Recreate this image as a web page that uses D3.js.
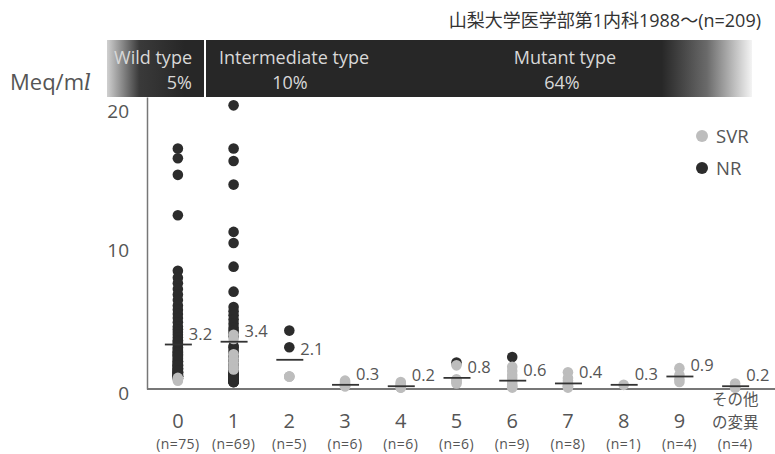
<!DOCTYPE html>
<html>
<head>
<meta charset="utf-8">
<script src="https://cdn.jsdelivr.net/npm/d3@7"></script>
<style>
  html, body { margin: 0; padding: 0; background: #fff; }
  svg { display: block; }
  text { font-family: "Open Sans", "Noto Sans", "Noto Sans CJK JP", sans-serif; }
</style>
</head>
<body>
<svg id="chart" width="775" height="454"></svg>
<script>
// Categories (number of substitutions) and group sizes
const categories = ["0", "1", "2", "3", "4", "5", "6", "7", "8", "9", "その他"];
const groupN = [75, 69, 5, 6, 6, 6, 9, 8, 1, 4, 4];

// Mean value label per group
const means = [3.2, 3.4, 2.1, 0.3, 0.2, 0.8, 0.6, 0.4, 0.3, 0.9, 0.2];

// Individual values, non-responders (NR)
const nrValues = [
  [17.3, 16.6, 15.4, 12.5,
   8.5, 8.0, 7.6, 7.2, 6.8, 6.4, 6.0, 5.7, 5.4, 5.1,
   4.8, 4.5, 4.3, 4.1, 3.9, 3.7, 3.5, 3.3, 3.2, 3.0,
   2.9, 2.8, 2.7, 2.6, 2.5, 2.4, 2.3, 2.2, 2.1, 2.0,
   2.0, 1.9, 1.8, 1.8, 1.7, 1.6, 1.6, 1.5, 1.5, 1.4,
   1.4, 1.3, 1.3, 1.2, 1.2, 1.2, 1.1, 1.1, 1.1, 1.0,
   1.0, 1.0, 1.0, 0.9, 0.9, 0.9, 0.9, 0.9, 0.8, 0.8,
   0.8, 0.8, 2.6, 3.4, 1.7, 2.4, 1.3],
  [20.4, 17.3, 16.4, 14.7, 11.3, 10.5, 8.8, 7.0,
   5.9, 5.6, 5.3, 5.0, 4.7, 4.4, 4.2, 4.0, 3.8, 3.1,
   3.0, 2.8, 2.6, 2.4, 2.2, 2.0, 1.8, 1.6, 1.4, 1.2,
   1.2, 1.1, 1.1, 1.0, 1.0, 1.0, 0.9, 0.9, 0.9, 0.8,
   0.8, 0.8, 0.8, 0.7, 0.7, 0.7, 0.7, 0.6, 0.6, 0.6,
   0.6, 0.5, 0.5, 0.5, 0.5, 1.3, 1.5, 0.9, 1.0, 1.1,
   0.8, 0.7, 1.2, 0.9],
  [4.2, 3.0],
  [],
  [],
  [1.9],
  [2.3],
  [],
  [],
  [],
  []
];

// Individual values, sustained virological responders (SVR)
const svrValues = [
  [0.6, 0.7, 0.7, 0.8],
  [3.9, 3.6, 2.5, 2.2, 1.9, 1.6, 1.4],
  [0.9, 0.9, 0.9],
  [0.6, 0.5, 0.4, 0.3, 0.2, 0.2],
  [0.5, 0.4, 0.3, 0.2, 0.1, 0.1],
  [1.7, 0.7, 0.6, 0.5, 0.4],
  [1.6, 1.3, 1.0, 0.8, 0.5, 0.3, 0.2, 0.1],
  [1.2, 0.8, 0.6, 0.4, 0.3, 0.2, 0.2, 0.1],
  [0.3],
  [1.5, 1.0, 0.7, 0.5],
  [0.4, 0.2, 0.1, 0.1]
];

// Type bands across the top
const bandLabels = ["Wild type", "Intermediate type", "Mutant type"];
const bandPercents = ["5%", "10%", "64%"];
const yTicks = [0, 10, 20];
const legendLabels = ["SVR", "NR"];
const titleText = "山梨大学医学部第1内科1988～(n=209)";
const otherLabelLines = ["その他", "の変異"];

const svg = d3.select("#chart");
const NR_COLOR = "#2c2c2c";
const SVR_COLOR = "#bdbdbd";
const TEXT_COLOR = "#555";

const x = d3.scaleBand().domain(categories).range([150, 763]);
const y = d3.scaleLinear().domain([0, 21]).range([389, 97]);
const cx = c => x(c) + x.bandwidth() / 2;

// Title
svg.append("text")
  .attr("x", 761).attr("y", 27)
  .attr("text-anchor", "end")
  .attr("font-family", "'Noto Sans CJK JP', sans-serif")
  .attr("font-size", 18)
  .attr("fill", "#333")
  .text(titleText);

// Dark type band with faded ends
const defs = svg.append("defs");
const grad = defs.append("linearGradient").attr("id", "bandGrad")
  .attr("x1", "0%").attr("x2", "100%").attr("y1", "0%").attr("y2", "0%");
[[0, "#d0d0d0"], [0.05, "#3a3a3a"], [0.12, "#272727"], [0.86, "#272727"],
 [0.93, "#6a6a6a"], [1, "#f4f4f4"]].forEach(([o, c]) =>
  grad.append("stop").attr("offset", o).attr("stop-color", c));

svg.append("rect")
  .attr("x", 107).attr("y", 40).attr("width", 645).attr("height", 57)
  .attr("fill", "url(#bandGrad)");
svg.append("rect")
  .attr("x", 204).attr("y", 40).attr("width", 2).attr("height", 57)
  .attr("fill", "#fff");

const bandText = svg.append("g").attr("fill", "#d8d8d8").attr("font-size", 18);
bandText.append("text").attr("x", 192).attr("y", 64).attr("text-anchor", "end").text(bandLabels[0]);
bandText.append("text").attr("x", 192).attr("y", 89).attr("text-anchor", "end").text(bandPercents[0]);
bandText.append("text").attr("x", 294).attr("y", 64).attr("text-anchor", "middle").text(bandLabels[1]);
bandText.append("text").attr("x", 290).attr("y", 89).attr("text-anchor", "middle").text(bandPercents[1]);
bandText.append("text").attr("x", 565).attr("y", 64).attr("text-anchor", "middle").text(bandLabels[2]);
bandText.append("text").attr("x", 562).attr("y", 89).attr("text-anchor", "middle").text(bandPercents[2]);

// Unit label
const unit = svg.append("text")
  .attr("x", 10).attr("y", 90)
  .attr("font-size", 22).attr("fill", TEXT_COLOR);
unit.append("tspan").text("Meq/m");
unit.append("tspan").attr("font-style", "italic").attr("font-family", "'DejaVu Serif', serif").text("l");

// Y axis
const yAxis = svg.append("g")
  .attr("transform", "translate(147,0)")
  .call(d3.axisLeft(y).tickValues(yTicks).tickSize(0).tickSizeOuter(0).tickPadding(18));
yAxis.select(".domain").attr("stroke", "#777").attr("stroke-width", 1.5);
yAxis.selectAll("text")
  .attr("font-size", 19).attr("fill", TEXT_COLOR)
  .attr("font-family", "'Open Sans', sans-serif")
  .attr("dy", (d) => d === 0 ? "0.55em" : "0.35em");

// X axis baseline
svg.append("line")
  .attr("x1", 147).attr("x2", 775)
  .attr("y1", y(0)).attr("y2", y(0))
  .attr("stroke", "#777").attr("stroke-width", 2);

// Category labels
const catG = svg.append("g").attr("fill", TEXT_COLOR).attr("text-anchor", "middle");
categories.forEach((c, i) => {
  if (c === "その他") {
    otherLabelLines.forEach((line, k) => {
      catG.append("text").attr("x", cx(c)).attr("y", 405 + k * 23)
        .attr("font-family", "'Noto Sans CJK JP', sans-serif")
        .attr("font-size", 15.5).text(line);
    });
  } else {
    catG.append("text").attr("x", cx(c)).attr("y", 428)
      .attr("font-size", 20).text(c);
  }
  catG.append("text").attr("x", cx(c)).attr("y", 449)
    .attr("font-size", 14).attr("letter-spacing", 0.4)
    .text(`(n=${groupN[i]})`);
});

// Dots: NR first, SVR on top
const dotsG = svg.append("g");
const nrPts = nrValues.flatMap((vals, i) => vals.map(v => ({ c: categories[i], v })));
const svrPts = svrValues.flatMap((vals, i) => vals.map(v => ({ c: categories[i], v })));

dotsG.selectAll("circle.nr").data(nrPts).join("circle")
  .attr("class", "nr")
  .attr("cx", d => cx(d.c)).attr("cy", d => y(d.v))
  .attr("r", 5.3).attr("fill", NR_COLOR);

dotsG.selectAll("circle.svr").data(svrPts).join("circle")
  .attr("class", "svr")
  .attr("cx", d => cx(d.c)).attr("cy", d => y(d.v))
  .attr("r", 5.3).attr("fill", SVR_COLOR);

// Mean lines and labels
const meanG = svg.append("g");
categories.forEach((c, i) => {
  meanG.append("line")
    .attr("x1", cx(c) - 13).attr("x2", cx(c) + 14)
    .attr("y1", y(means[i])).attr("y2", y(means[i]))
    .attr("stroke", "#333").attr("stroke-width", 1.8);
  meanG.append("text")
    .attr("x", cx(c) + 11).attr("y", y(means[i]) - 5)
    .attr("font-size", 16.5).attr("fill", TEXT_COLOR)
    .text(means[i].toFixed(1));
});

// Legend
const legend = svg.append("g");
legendLabels.forEach((lab, i) => {
  const ly = 136 + i * 32;
  legend.append("circle").attr("cx", 702).attr("cy", ly).attr("r", 6)
    .attr("fill", i === 0 ? SVR_COLOR : NR_COLOR);
  legend.append("text").attr("x", 716).attr("y", ly + 6.5)
    .attr("font-size", 18.5).attr("fill", TEXT_COLOR).text(lab);
});
</script>
</body>
</html>
